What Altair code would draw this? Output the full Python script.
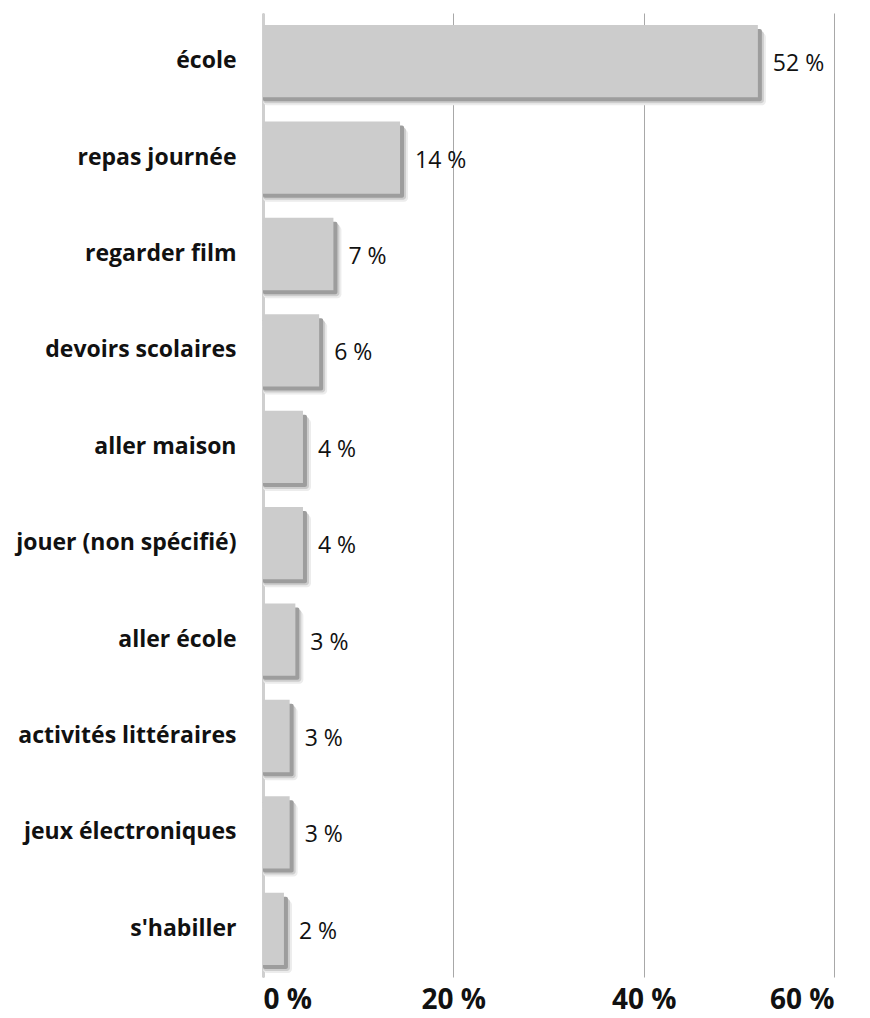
import altair as alt
import pandas as pd

# Share of mentions per activity (percent)
activities = [
    "école",
    "repas journée",
    "regarder film",
    "devoirs scolaires",
    "aller maison",
    "jouer (non spécifié)",
    "aller école",
    "activités littéraires",
    "jeux électroniques",
    "s'habiller",
]
shares = [52.0, 14.4, 7.4, 5.9, 4.2, 4.2, 3.4, 2.8, 2.8, 2.2]
x_ticks = [0, 20, 40, 60]

df = pd.DataFrame({"activity": activities, "share": shares})
df["label"] = [f"{round(v)} %" for v in shares]
df["start"] = 0.0

FONT = "Open Sans"

x_scale = alt.Scale(domain=[0, 60], nice=False, zero=True)
x_axis = alt.Axis(
    values=x_ticks,
    labelExpr="datum.value + ' %'",
    title=None,
    grid=True,
    gridColor="#a8a8a8",
    gridWidth=1,
    domain=False,
    ticks=False,
    labelFont=FONT,
    labelFontWeight="bold",
    labelFontSize=28,
    labelColor="#111111",
    labelPadding=9,
)
y_enc = alt.Y(
    "activity:N",
    sort=activities,
    scale=alt.Scale(paddingInner=0.25, paddingOuter=0.125),
    axis=alt.Axis(
        title=None,
        domain=True,
        domainColor="#cfcfcf",
        domainWidth=3,
        ticks=False,
        labelFont=FONT,
        labelFontWeight="bold",
        labelFontSize=23,
        labelColor="#111111",
        labelPadding=27,
        labelLimit=300,
    ),
)

# bars run from the zero baseline (x) to the share (x2)
x_start = alt.X("start:Q", scale=x_scale, axis=x_axis)
x_end = alt.X2("share:Q")

base = alt.Chart(df)


def shadow(offset, color, radius):
    return base.mark_bar(
        color=color,
        cornerRadius=radius,
        x2Offset=offset,
        yOffset=offset,
        y2Offset=offset,
    ).encode(x=x_start, x2=x_end, y=y_enc)


bars = base.mark_bar(color="#cccccc").encode(x=x_start, x2=x_end, y=y_enc)

values = base.mark_text(
    align="left",
    baseline="middle",
    dx=15,
    dy=3,
    font=FONT,
    fontSize=23,
    color="#111111",
).encode(
    x=alt.X("share:Q", scale=x_scale, axis=x_axis),
    y=y_enc,
    text="label:N",
)

chart = (
    alt.layer(
        shadow(8, "#ececec", 4),
        shadow(6, "#cdcdcd", 3),
        shadow(4, "#9d9d9d", 2),
        bars,
        values,
    )
    .properties(
        width=571,
        height=964,
        autosize=alt.AutoSizeParams(type="none"),
        padding={"left": 263, "top": 13, "right": 36, "bottom": 41},
        background="white",
    )
    .configure_view(stroke=None)
)

chart.save("out.html", embed_options={"renderer": "svg", "actions": False})
